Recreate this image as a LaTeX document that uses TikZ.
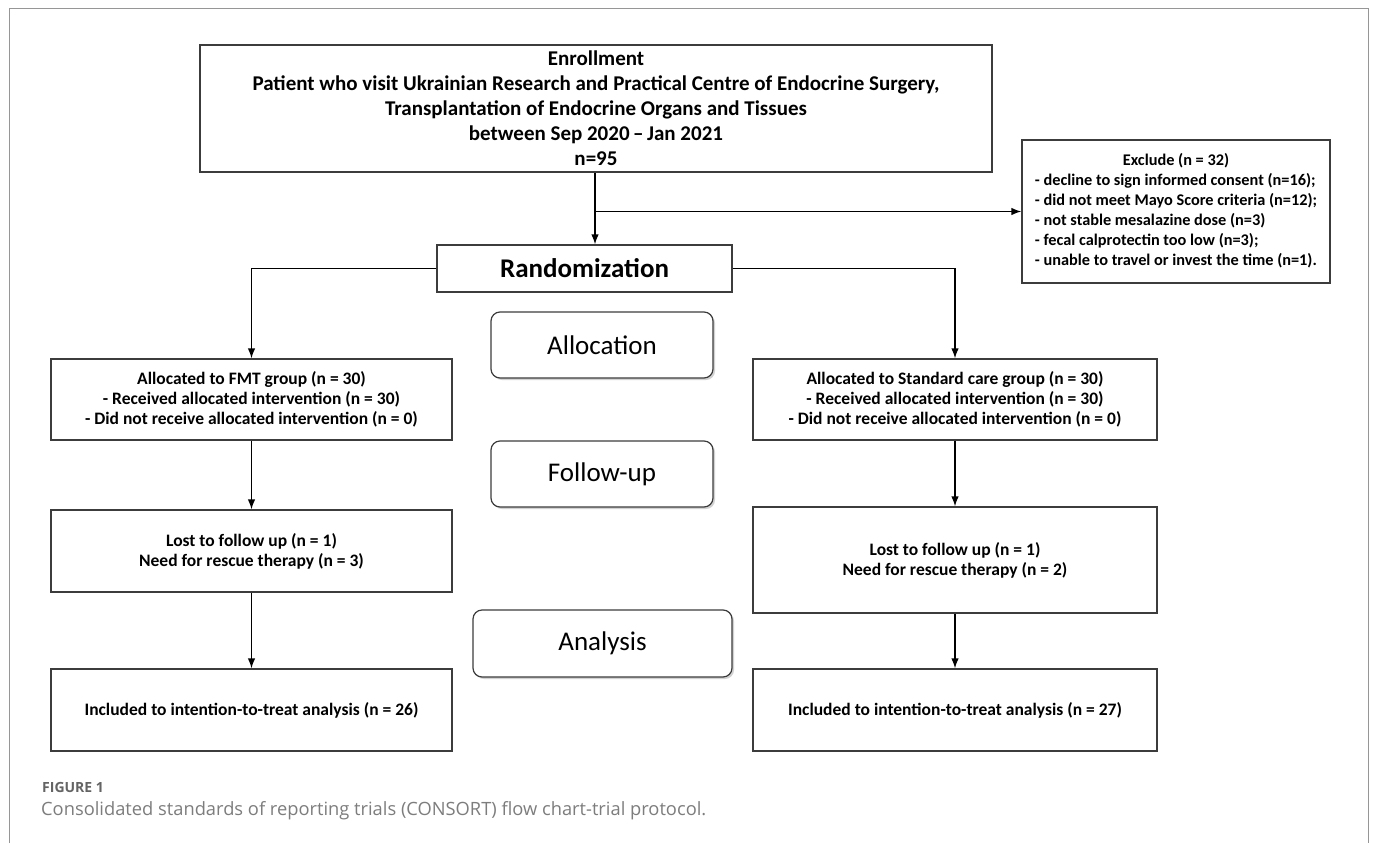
\documentclass[tikz,border=0pt]{standalone}
\usepackage{fontspec}
\setmainfont{Carlito}
\newfontfamily\capfont{Open Sans}
\usetikzlibrary{arrows.meta,shadows}
\definecolor{boxline}{RGB}{60,60,60}
\definecolor{capgray}{RGB}{125,125,125}
\definecolor{figgray}{RGB}{100,100,100}
\definecolor{framegray}{RGB}{150,150,150}
\begin{document}
\begin{tikzpicture}[x=1pt,y=-1pt,
  box/.style={draw=boxline,line width=1.3pt,fill=white,inner sep=0pt,align=center,font=\bfseries\fontsize{17.5}{20}\selectfont},
  phase/.style={draw=boxline,line width=1.2pt,rounded corners=9pt,fill=white,inner sep=0pt,font=\fontsize{27}{30}\selectfont,
     drop shadow={shadow xshift=2pt,shadow yshift=-2pt,opacity=0.35,fill=gray}},
  conn/.style={draw=black,line width=1.3pt},
  arr/.style={conn,-{Latex[length=10pt,width=7.5pt]}}]
\useasboundingbox (0,0) rectangle (1375,843);
\fill[white] (0,0) rectangle (1375,843);
\draw[framegray,line width=0.9pt] (9,843) -- (9,8) -- (1368,8) -- (1368,843);

\node[box,line width=2.2pt,minimum width=792pt,minimum height=127pt,font=\bfseries\fontsize{21}{25}\selectfont] (enr) at (596,108.5)
 {Enrollment\\Patient who visit Ukrainian Research and Practical Centre of Endocrine Surgery,\\Transplantation of Endocrine Organs and Tissues\\between Sep 2020\,--\,Jan 2021\\n=95};

\node[box,minimum width=308pt,minimum height=143pt,font=\bfseries\fontsize{16.3}{19.3}\selectfont] (exc) at (1176,211.5)
 {\def\arraystretch{1.03}\begin{tabular}{@{}l@{}}
 \multicolumn{1}{c}{Exclude (n = 32)}\\
 - decline to sign informed consent (n=16);\\
 - did not meet Mayo Score criteria (n=12);\\
 - not stable mesalazine dose (n=3)\\
 - fecal calprotectin too low (n=3);\\
 - unable to travel or invest the time (n=1).
 \end{tabular}};

\node[box,minimum width=295pt,minimum height=47pt,font=\bfseries\fontsize{27}{30}\selectfont] (rand) at (584.5,268.5) {Randomization};

\node[phase,minimum width=222pt,minimum height=66pt] (alloc) at (602,345) {Allocation};
\node[phase,minimum width=222pt,minimum height=66pt] (foll) at (602,474) {Follow-up};
\node[phase,minimum width=259pt,minimum height=67pt] (anal) at (602.5,643.5) {Analysis};

\node[box,minimum width=401pt,minimum height=81pt] (fmt) at (251.5,399.5)
 {Allocated to FMT group (n = 30)\\- Received allocated intervention (n = 30)\\- Did not receive allocated intervention (n = 0)};
\node[box,minimum width=404pt,minimum height=81pt] (std) at (955,399.5)
 {Allocated to Standard care group (n = 30)\\- Received allocated intervention (n = 30)\\- Did not receive allocated intervention (n = 0)};

\node[box,minimum width=401pt,minimum height=82pt] (lostL) at (251.5,551)
 {Lost to follow up (n = 1)\\Need for rescue therapy (n = 3)};
\node[box,minimum width=404pt,minimum height=106pt] (lostR) at (955,560)
 {Lost to follow up (n = 1)\\Need for rescue therapy (n = 2)};

\node[box,minimum width=401pt,minimum height=82pt] (inclL) at (251.5,710)
 {Included to intention-to-treat analysis (n = 26)};
\node[box,minimum width=404pt,minimum height=82pt] (inclR) at (955,710)
 {Included to intention-to-treat analysis (n = 27)};

\coordinate (split) at ([xshift=-1pt]enr.south |- exc.west);
\draw[arr] ([xshift=-1pt]enr.south) -- ([xshift=-1pt]enr.south |- rand.north);
\draw[arr] (split) -- (exc.west);
\draw[arr] (rand.west) -| (fmt.north);
\draw[arr] (rand.east) -| (std.north);
\draw[arr] (fmt.south) -- (lostL.north);
\draw[arr] (std.south) -- (lostR.north);
\draw[arr] (lostL.south) -- (inclL.north);
\draw[arr] (lostR.south) -- (inclR.north);

\node[anchor=west,inner sep=0pt,text=figgray,font=\capfont\bfseries\fontsize{14}{16}\selectfont] (fig) at (42,787) {FIGURE 1};
\node[anchor=west,inner sep=0pt,text=capgray,font=\capfont\fontsize{18.3}{22}\selectfont] (cap) at (41,811) {Consolidated standards of reporting trials (CONSORT) flow chart-trial protocol.};
\end{tikzpicture}
\end{document}
